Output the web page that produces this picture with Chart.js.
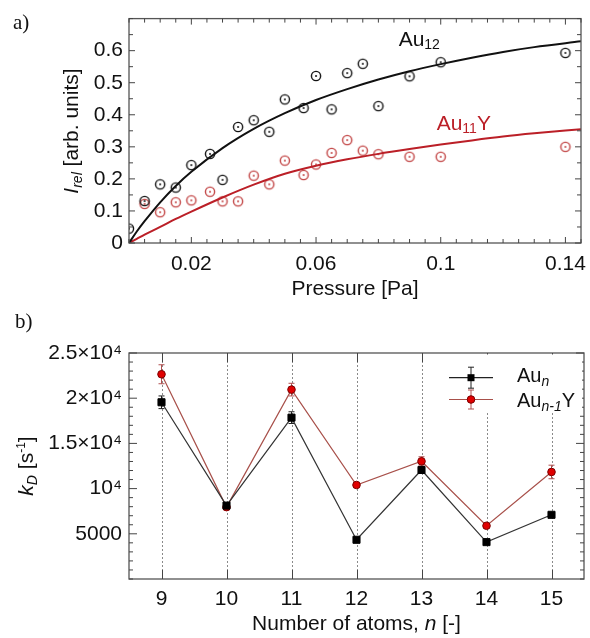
<!DOCTYPE html>
<html><head><meta charset="utf-8">
<script src="https://cdn.jsdelivr.net/npm/chart.js@4"></script>
<style>
html,body{margin:0;padding:0;background:#fff;}
#wrapA{position:absolute;left:0;top:0;width:590px;height:300px;}
#wrapB{position:absolute;left:0;top:300px;width:590px;height:338px;}
</style></head><body>
<div id="wrapA"><canvas id="chartA"></canvas></div>
<div id="wrapB"><canvas id="chartB"></canvas></div>
<script>
// ---------- Panel a data ----------
const pressureAu12 = [0.0, 0.005, 0.010, 0.015, 0.020, 0.026, 0.030, 0.035, 0.040, 0.045, 0.050, 0.056, 0.060, 0.065, 0.070, 0.075, 0.080, 0.090, 0.100, 0.140];
const irelAu12     = [0.045, 0.131, 0.183, 0.173, 0.243, 0.278, 0.197, 0.362, 0.383, 0.347, 0.448, 0.421, 0.521, 0.417, 0.530, 0.559, 0.427, 0.520, 0.564, 0.593];
const pressureAu11Y = [0.005, 0.010, 0.015, 0.020, 0.026, 0.030, 0.035, 0.040, 0.045, 0.050, 0.056, 0.060, 0.065, 0.070, 0.075, 0.080, 0.090, 0.100, 0.140];
const irelAu11Y     = [0.122, 0.096, 0.127, 0.133, 0.160, 0.130, 0.130, 0.210, 0.183, 0.257, 0.212, 0.245, 0.281, 0.321, 0.288, 0.277, 0.269, 0.269, 0.300];
const fitPressure = [0, 0.0025, 0.005, 0.01, 0.015, 0.02, 0.03, 0.04, 0.05, 0.06, 0.07, 0.08, 0.09, 0.1, 0.11, 0.12, 0.13, 0.145];
const fitAu12     = [0, 0.036, 0.068, 0.127, 0.178, 0.222, 0.296, 0.356, 0.405, 0.446, 0.480, 0.510, 0.536, 0.558, 0.578, 0.596, 0.611, 0.629];
const fitAu11Y    = [0, 0.013, 0.026, 0.050, 0.075, 0.098, 0.142, 0.182, 0.216, 0.241, 0.261, 0.278, 0.293, 0.307, 0.320, 0.332, 0.342, 0.355];
const xTickLabelsA = [0.02, 0.06, 0.1, 0.14];
const yTickLabelsA = [0, 0.1, 0.2, 0.3, 0.4, 0.5, 0.6];

// ---------- Panel b data ----------
const nAtoms  = [9, 10, 11, 12, 13, 14, 15];
const kAu     = [19550, 8120, 17850, 4340, 12060, 4080, 7100];
const kAuErr  = [700, 250, 650, 200, 300, 200, 200];
const kAuY    = [22650, 7950, 20950, 10400, 13020, 5890, 11840];
const kAuYErr = [1050, 300, 700, 250, 500, 250, 750];
const yTickValuesB = [5000, 10000, 15000, 20000, 25000];
const yTickLabelsB = ['5000', '10\u2074', '1.5\u00d710\u2074', '2\u00d710\u2074', '2.5\u00d710\u2074'];

// ---------- styling helpers ----------
const SANS = "'Liberation Sans', Arial, Helvetica, sans-serif";
const SERIF = "'Liberation Serif', 'Times New Roman', serif";
const TXT = '#111';
const FRAME = '#555';
const FS = 21;

function fontOf(s) { return (s.italic ? 'italic ' : '') + (s.size || FS) + 'px ' + (s.family || SANS); }
function drawRich(ctx, segs, x, y, align, rot) {
  ctx.save();
  ctx.translate(x, y);
  ctx.rotate(rot || 0);
  let w = 0;
  segs.forEach(s => { ctx.font = fontOf(s); w += ctx.measureText(s.t).width; });
  let cx = align === 'center' ? -w / 2 : (align === 'right' ? -w : 0);
  ctx.textBaseline = 'alphabetic';
  ctx.textAlign = 'left';
  segs.forEach(s => {
    ctx.font = fontOf(s);
    ctx.fillStyle = s.color || TXT;
    ctx.fillText(s.t, cx, s.dy || 0);
    cx += ctx.measureText(s.t).width;
  });
  ctx.restore();
}
function line(ctx, x1, y1, x2, y2) { ctx.beginPath(); ctx.moveTo(x1, y1); ctx.lineTo(x2, y2); ctx.stroke(); }

function makeDotCircle(color, r) {
  const size = Math.ceil(2 * r + 4);
  const c = document.createElement('canvas');
  c.width = size; c.height = size;
  const g = c.getContext('2d');
  g.strokeStyle = color; g.lineWidth = 1.4;
  g.beginPath(); g.arc(size / 2, size / 2, r, 0, Math.PI * 2); g.stroke();
  g.fillStyle = color;
  g.beginPath(); g.arc(size / 2, size / 2, 1, 0, Math.PI * 2); g.fill();
  return c;
}

const RED_A = '#bb1f27';
const RED_PTS = '#c24444';

// ---------- Panel a ----------
const near = (arr, v) => arr.find(t => Math.abs(t - v) < 1e-6);

const panelAPlugin = {
  id: 'panelA',
  afterDraw(chart) {
    const ctx = chart.ctx, ca = chart.chartArea, xs = chart.scales.x, ys = chart.scales.y;
    ctx.save();
    ctx.strokeStyle = FRAME; ctx.lineWidth = 1.3;
    ctx.strokeRect(ca.left, ca.top, ca.right - ca.left, ca.bottom - ca.top);
    ctx.lineWidth = 1; ctx.strokeStyle = '#444';
    xs.ticks.forEach(t => {
      const px = xs.getPixelForValue(t.value);
      const len = near(xTickLabelsA, t.value) !== undefined ? 6 : 4;
      line(ctx, px, ca.bottom, px, ca.bottom - len);
      line(ctx, px, ca.top, px, ca.top + len);
    });
    ys.ticks.forEach(t => {
      const py = ys.getPixelForValue(t.value);
      const len = near(yTickLabelsA, t.value) !== undefined ? 6 : 4;
      line(ctx, ca.left, py, ca.left + len, py);
      line(ctx, ca.right, py, ca.right - len, py);
    });
    drawRich(ctx, [{ t: 'a)', family: SERIF, size: 21 }], 13, 29);
    drawRich(ctx, [{ t: 'I', italic: true }, { t: 'rel', italic: true, size: 14, dy: 4 }, { t: ' [arb. units]' }], 78, 131, 'center', -Math.PI / 2);
    drawRich(ctx, [{ t: 'Pressure [Pa]' }], (ca.left + ca.right) / 2, 295, 'center');
    drawRich(ctx, [{ t: 'Au' }, { t: '12', size: 14, dy: 3 }], xs.getPixelForValue(0.0865), ys.getPixelForValue(0.613));
    drawRich(ctx, [{ t: 'Au', color: RED_A }, { t: '11', size: 14, dy: 3, color: RED_A }, { t: 'Y', color: RED_A }], xs.getPixelForValue(0.0987), ys.getPixelForValue(0.352));
    ctx.restore();
  }
};

new Chart(document.getElementById('chartA'), {
  type: 'line',
  data: {
    datasets: [
      { label: 'Au12 fit', data: fitPressure.map((x, i) => ({ x, y: fitAu12[i] })), borderColor: '#111', borderWidth: 2, pointRadius: 0, cubicInterpolationMode: 'monotone', fill: false },
      { label: 'Au11Y fit', data: fitPressure.map((x, i) => ({ x, y: fitAu11Y[i] })), borderColor: RED_A, borderWidth: 2, pointRadius: 0, cubicInterpolationMode: 'monotone', fill: false },
      { label: 'Au12', data: pressureAu12.map((x, i) => ({ x, y: irelAu12[i] })), showLine: false, pointStyle: makeDotCircle('#111', 4.6), pointRadius: 5, clip: 0 },
      { label: 'Au11Y', data: pressureAu11Y.map((x, i) => ({ x, y: irelAu11Y[i] })), showLine: false, pointStyle: makeDotCircle(RED_PTS, 4.6), pointRadius: 5, clip: 0 }
    ]
  },
  options: {
    animation: false, responsive: true, maintainAspectRatio: false,
    layout: { padding: { left: 0, right: 1, top: 17, bottom: 0 } },
    plugins: { legend: { display: false }, tooltip: { enabled: false } },
    scales: {
      x: {
        type: 'linear', min: 0, max: 0.145,
        grid: { display: false, drawTicks: false }, border: { display: false },
        ticks: {
          stepSize: 0.005, autoSkip: false, maxRotation: 0, padding: 9,
          color: TXT, font: { family: SANS, size: FS },
          callback: v => { const k = near(xTickLabelsA, v); return k !== undefined ? String(k) : ''; }
        },
        afterFit: s => { s.height = 57; }
      },
      y: {
        type: 'linear', min: 0, max: 0.7,
        grid: { display: false, drawTicks: false }, border: { display: false },
        ticks: {
          stepSize: 0.05, autoSkip: false, padding: 6,
          color: TXT, font: { family: SANS, size: FS },
          callback: v => { const k = near(yTickLabelsA, v); return k !== undefined ? String(k) : ''; }
        },
        afterFit: s => { s.width = 129; }
      }
    }
  },
  plugins: [panelAPlugin]
});

// ---------- Panel b ----------
const RED_B_LINE = '#a8504a';
const RED_B_FILL = '#e00000';
const RED_B_EDGE = '#7a0000';
const RED_B_ERR = '#b05050';

const panelBPlugin = {
  id: 'panelB',
  beforeDatasetsDraw(chart) {
    const ctx = chart.ctx, ca = chart.chartArea, xs = chart.scales.x, ys = chart.scales.y;
    ctx.save();
    ctx.strokeStyle = '#8a8a8a'; ctx.lineWidth = 1; ctx.setLineDash([2, 2]);
    nAtoms.forEach(n => { const px = Math.round(xs.getPixelForValue(n)) + 0.5; line(ctx, px, ca.top, px, ca.bottom); });
    ctx.setLineDash([]);
    const errBars = (vals, errs, color) => {
      ctx.strokeStyle = color; ctx.lineWidth = 1;
      nAtoms.forEach((n, i) => {
        const px = xs.getPixelForValue(n);
        const yt = ys.getPixelForValue(vals[i] + errs[i]);
        const yb = ys.getPixelForValue(vals[i] - errs[i]);
        line(ctx, px, yt, px, yb);
        line(ctx, px - 3, yt, px + 3, yt);
        line(ctx, px - 3, yb, px + 3, yb);
      });
    };
    errBars(kAuY, kAuYErr, RED_B_ERR);
    errBars(kAu, kAuErr, '#222');
    ctx.restore();
  },
  afterDraw(chart) {
    const ctx = chart.ctx, ca = chart.chartArea, xs = chart.scales.x, ys = chart.scales.y;
    ctx.save();
    ctx.strokeStyle = FRAME; ctx.lineWidth = 1.3;
    ctx.strokeRect(ca.left, ca.top, ca.right - ca.left, ca.bottom - ca.top);
    ctx.lineWidth = 1; ctx.strokeStyle = '#444';
    ys.ticks.forEach(t => {
      const py = ys.getPixelForValue(t.value);
      const len = yTickValuesB.includes(t.value) ? 8 : 4;
      line(ctx, ca.left, py, ca.left + len, py);
      line(ctx, ca.right, py, ca.right - len, py);
    });
    nAtoms.forEach(n => {
      const px = Math.round(xs.getPixelForValue(n)) + 0.5;
      line(ctx, px, ca.top, px, ca.top + 9);
      line(ctx, px, ca.bottom, px, ca.bottom - 9);
    });
    // legend box
    const lx = 447, ly = ca.top + 1.5, lw = 135, lh = 58;
    ctx.fillStyle = '#fff'; ctx.fillRect(lx, ly, lw, lh);
    const y1 = 77.7;
    ctx.strokeStyle = '#222'; ctx.lineWidth = 1.2;
    line(ctx, 449, y1, 493, y1);
    ctx.lineWidth = 1;
    line(ctx, 471, y1 - 10.5, 471, y1 + 10.5);
    line(ctx, 468, y1 - 10.5, 474, y1 - 10.5);
    line(ctx, 468, y1 + 10.5, 474, y1 + 10.5);
    ctx.fillStyle = '#000'; ctx.fillRect(467.5, y1 - 3.5, 7, 7);
    drawRich(ctx, [{ t: 'Au', size: 20 }, { t: 'n', italic: true, size: 14, dy: 4 }], 517, 82.3);
    const y2 = 99.5;
    ctx.strokeStyle = RED_B_LINE; ctx.lineWidth = 1.2;
    line(ctx, 449, y2, 493, y2);
    ctx.strokeStyle = RED_B_ERR; ctx.lineWidth = 1;
    line(ctx, 471, y2 - 9.5, 471, y2 + 9.5);
    line(ctx, 468, y2 - 9.5, 474, y2 - 9.5);
    line(ctx, 468, y2 + 9.5, 474, y2 + 9.5);
    ctx.fillStyle = RED_B_FILL; ctx.strokeStyle = RED_B_EDGE;
    ctx.beginPath(); ctx.arc(471, y2, 3.8, 0, Math.PI * 2); ctx.fill(); ctx.stroke();
    drawRich(ctx, [{ t: 'Au', size: 20 }, { t: 'n-1', italic: true, size: 14, dy: 4 }, { t: 'Y', size: 20 }], 517, 106.7);
    drawRich(ctx, [{ t: 'b)', family: SERIF, size: 21 }], 15, 28);
    drawRich(ctx, [{ t: 'k', italic: true }, { t: 'D', italic: true, size: 14, dy: 4 }, { t: ' [s' }, { t: '-1', size: 12, dy: -8 }, { t: ']' }], 33, 166, 'center', -Math.PI / 2);
    drawRich(ctx, [{ t: 'Number of atoms, ' }, { t: 'n', italic: true }, { t: ' [-]' }], (ca.left + ca.right) / 2, 330, 'center');
    ctx.restore();
  }
};

new Chart(document.getElementById('chartB'), {
  type: 'line',
  data: {
    datasets: [
      { label: 'Aun', data: nAtoms.map((n, i) => ({ x: n, y: kAu[i] })), borderColor: '#333', borderWidth: 1.2, tension: 0,
        pointStyle: 'rect', pointRadius: 5, pointBackgroundColor: '#000', pointBorderColor: '#000', pointBorderWidth: 1, fill: false },
      { label: 'Aun-1Y', data: nAtoms.map((n, i) => ({ x: n, y: kAuY[i] })), borderColor: RED_B_LINE, borderWidth: 1.2, tension: 0,
        pointStyle: 'circle', pointRadius: 3.8, pointBackgroundColor: RED_B_FILL, pointBorderColor: RED_B_EDGE, pointBorderWidth: 1, fill: false }
    ]
  },
  options: {
    animation: false, responsive: true, maintainAspectRatio: false,
    layout: { padding: { left: 0, right: 2, top: 53, bottom: 0 } },
    plugins: { legend: { display: false }, tooltip: { enabled: false } },
    scales: {
      x: {
        type: 'linear', min: 8.5, max: 15.5,
        afterBuildTicks: s => { s.ticks = nAtoms.map(v => ({ value: v })); },
        grid: { display: false, drawTicks: false }, border: { display: false },
        ticks: { autoSkip: false, maxRotation: 0, padding: 8, color: TXT, font: { family: SANS, size: FS }, callback: v => String(v) },
        afterFit: s => { s.height = 59; }
      },
      y: {
        type: 'linear', min: 0, max: 25000,
        grid: { display: false, drawTicks: false }, border: { display: false },
        ticks: {
          stepSize: 1000, autoSkip: false, padding: 7, color: TXT, font: { family: SANS, size: FS },
          callback: v => { const i = yTickValuesB.indexOf(v); return i >= 0 ? yTickLabelsB[i] : ''; }
        },
        afterFit: s => { s.width = 129; }
      }
    }
  },
  plugins: [panelBPlugin]
});
</script>
</body></html>
